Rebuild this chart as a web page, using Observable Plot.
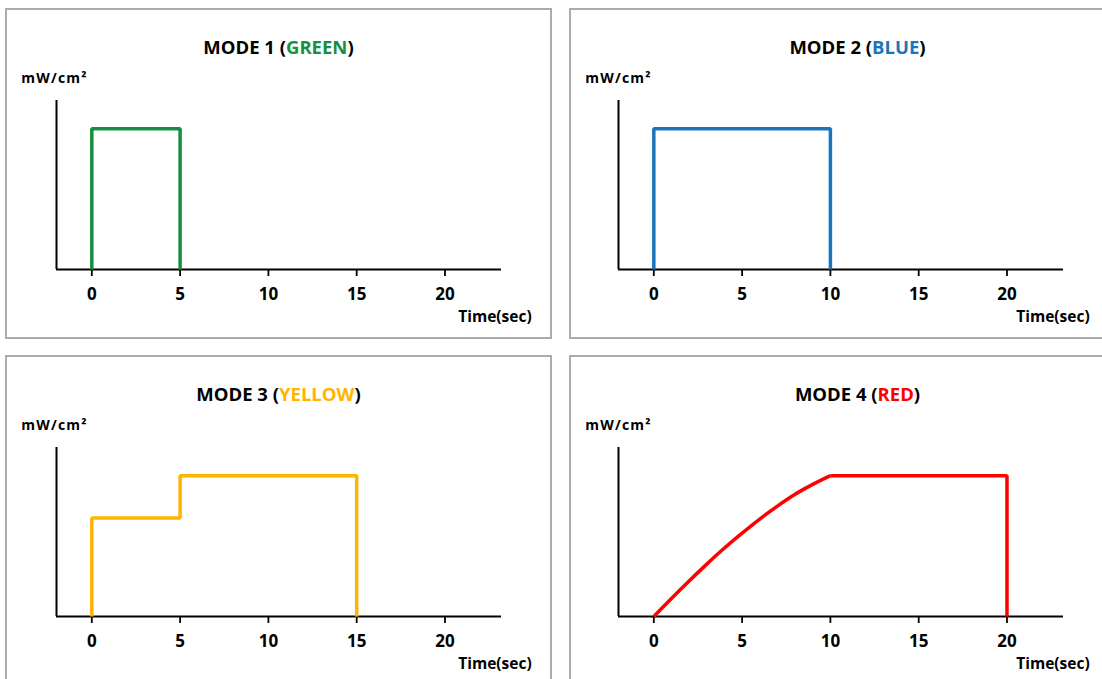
<!DOCTYPE html>
<html>
<head>
<meta charset="utf-8">
<script src="https://cdn.jsdelivr.net/npm/d3@7"></script>
<script src="https://cdn.jsdelivr.net/npm/@observablehq/plot@0.6"></script>
<style>
  html, body { margin: 0; padding: 0; background: #fff; }
  #wrap { position: relative; width: 1102px; height: 679px; overflow: hidden; font-family: "Open Sans", "DejaVu Sans", sans-serif; }
  .panel { position: absolute; width: 547px; height: 331px; border: 2px solid #ababab; box-sizing: border-box; background: #fff; overflow: visible; }
  .panel svg { position: absolute; top: 0; }
  .overlay { pointer-events: none; left: 0; }
</style>
</head>
<body>
<div id="wrap"></div>
<script>
// ---- data ----
const modeNames = ["MODE 1", "MODE 2", "MODE 3", "MODE 4"];
const colorNames = ["GREEN", "BLUE", "YELLOW", "RED"];
const colors = ["#169040", "#1a75bb", "#ffb400", "#ff0000"];

const xTicks = [0, 5, 10, 15, 20];
const xDomain = [-2, 23.2];
const yDomain = [0, 6];

// Mode 1 (green)
const mode1T = [0, 0, 5, 5];
const mode1V = [0, 5, 5, 0];
// Mode 2 (blue)
const mode2T = [0, 0, 10, 10];
const mode2V = [0, 5, 5, 0];
// Mode 3 (yellow)
const mode3T = [0, 0, 5, 5, 15, 15];
const mode3V = [0, 3.5, 3.5, 5, 5, 0];
// Mode 4 (red): ramp then hold
const mode4RampT = [0, 1, 2, 3, 4, 5, 6, 7, 8, 9, 10];
const mode4RampV = [0, 0.64, 1.26, 1.86, 2.43, 2.96, 3.46, 3.92, 4.34, 4.69, 5];
const mode4HoldT = [10, 20, 20];
const mode4HoldV = [5, 5, 0];

const yLabel = "mW/cm²";
const xLabel = "Time(sec)";

// ---- layout ----
const panelPos = [[5, 8], [569, 8], [5, 355], [569, 355]];
const plotDx = [0, -2, 0, -2];
const titleDx = [0, 15, 0, 15];
const xLabelDx = [0, -6, 0, -6];
const W = 543, H = 327;

const zip = (t, v) => t.map((d, i) => ({t: d, v: v[i]}));

const series = [
  [{data: zip(mode1T, mode1V), curve: "linear"}],
  [{data: zip(mode2T, mode2V), curve: "linear"}],
  [{data: zip(mode3T, mode3V), curve: "linear"}],
  [{data: zip(mode4RampT, mode4RampV), curve: "catmull-rom"}, {data: zip(mode4HoldT, mode4HoldV), curve: "linear"}]
];

const wrap = document.getElementById("wrap");
const NS = "http://www.w3.org/2000/svg";

series.forEach((segs, i) => {
  const panel = document.createElement("div");
  panel.className = "panel";
  panel.style.left = panelPos[i][0] + "px";
  panel.style.top = panelPos[i][1] + "px";
  wrap.appendChild(panel);

  const chart = Plot.plot({
    width: W,
    height: H,
    marginLeft: 49,
    marginRight: 49,
    marginTop: 90,
    marginBottom: 68,
    style: {fontFamily: '"Open Sans", "DejaVu Sans", sans-serif', fontSize: "17px", fontWeight: "bold", color: "#000", background: "transparent", overflow: "visible"},
    x: {domain: xDomain},
    y: {domain: yDomain, axis: null},
    marks: [
      Plot.axisX({ticks: xTicks, tickSize: 7, tickPadding: 11, strokeWidth: 1.8, label: null, tickFormat: d => String(d)}),
      Plot.ruleY([yDomain[0]], {stroke: "#000", strokeWidth: 2}),
      Plot.ruleX([xDomain[0]], {stroke: "#000", strokeWidth: 2}),
      ...segs.map(s => Plot.line(s.data, {x: "t", y: "v", stroke: colors[i], strokeWidth: 3.5, curve: s.curve, strokeLinejoin: "miter", strokeLinecap: "butt"}))
    ]
  });
  chart.style.left = plotDx[i] + "px";
  panel.appendChild(chart);

  // text overlay
  const ov = document.createElementNS(NS, "svg");
  ov.setAttribute("class", "overlay");
  ov.setAttribute("width", W);
  ov.setAttribute("height", H);
  ov.style.fontFamily = '"Open Sans", "DejaVu Sans", sans-serif';
  ov.style.fontWeight = "bold";
  ov.style.overflow = "visible";

  const title = document.createElementNS(NS, "text");
  title.setAttribute("x", W / 2 + titleDx[i]);
  title.setAttribute("y", 43.5);
  title.setAttribute("text-anchor", "middle");
  title.setAttribute("font-size", "18.5");
  const t1 = document.createElementNS(NS, "tspan");
  t1.textContent = modeNames[i] + " (";
  t1.setAttribute("fill", "#000");
  const t2 = document.createElementNS(NS, "tspan");
  t2.textContent = colorNames[i];
  t2.setAttribute("fill", colors[i]);
  const t3 = document.createElementNS(NS, "tspan");
  t3.textContent = ")";
  t3.setAttribute("fill", "#000");
  title.append(t1, t2, t3);
  ov.appendChild(title);

  const yl = document.createElementNS(NS, "text");
  yl.setAttribute("x", 14.3);
  yl.setAttribute("y", 73.3);
  yl.setAttribute("font-size", "14");
  yl.setAttribute("letter-spacing", "1.2");
  yl.setAttribute("fill", "#000");
  yl.textContent = yLabel;
  ov.appendChild(yl);

  const xl = document.createElementNS(NS, "text");
  xl.setAttribute("x", 524.7 + xLabelDx[i]);
  xl.setAttribute("y", 311.7);
  xl.setAttribute("text-anchor", "end");
  xl.setAttribute("font-size", "15.5");
  xl.setAttribute("fill", "#000");
  xl.textContent = xLabel;
  ov.appendChild(xl);

  panel.appendChild(ov);
});
</script>
</body>
</html>
